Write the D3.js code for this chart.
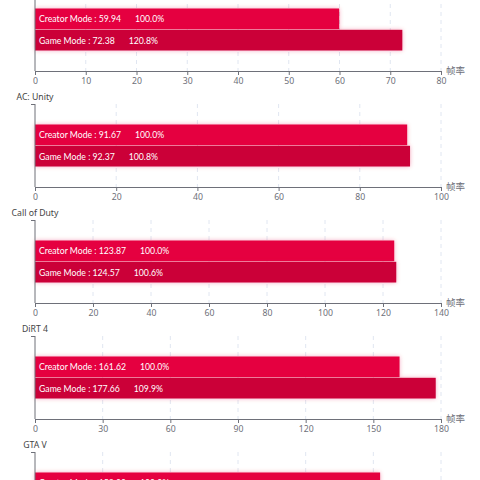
<!DOCTYPE html>
<html>
<head>
<meta charset="utf-8">
<script src="https://cdn.jsdelivr.net/npm/d3@7"></script>
<style>
  html, body { margin: 0; padding: 0; background: #fff; overflow: hidden; }
  svg { display: block; font-family: "Noto Sans", "Noto Sans CJK SC", sans-serif; }
</style>
</head>
<body>
<svg id="chart" width="480" height="480"></svg>
<script>
// games shown, one small chart each (first title is scrolled off the top)
const games = ["Far Cry 5", "AC: Unity", "Call of Duty", "DiRT 4", "GTA V"];
const modes = ["Creator Mode", "Game Mode"];
const creatorFps = [59.94, 91.67, 123.87, 161.62, 153.0];
const gameFps = [72.38, 92.37, 124.57, 177.66, 166.0];
const axisMax = [80, 100, 140, 180, 180];
const axisStep = [10, 20, 20, 30, 30];
const axisName = "帧率";

const svg = d3.select("#chart");
const colors = ["#e5033f", "#cb0639"];

//soft glow under the bars
const defs = svg.append("defs");
const glow = defs.append("filter").attr("id", "glow")
  .attr("x", "-5%").attr("y", "-30%").attr("width", "110%").attr("height", "160%");
glow.append("feDropShadow").attr("dx", 0).attr("dy", 0)
  .attr("stdDeviation", 2).attr("flood-color", "#e5033f").attr("flood-opacity", 0.35);

const left = 35, right = 441;
const panelStep = 116, firstTop = -12, gridH = 83;
const axisColor = "#6e7079";

games.forEach((name, k) => {
  const top = firstTop + k * panelStep;
  const bottom = top + gridH;
  const g = svg.append("g");

  const x = d3.scaleLinear().domain([0, axisMax[k]]).range([left, right]);
  const ticks = d3.range(0, axisMax[k] + 0.001, axisStep[k]);
  const y = d3.scaleBand().domain(modes).range([top + 20.5, top + 62.5]).paddingInner(0.03);

  //dashed grid
  g.selectAll(".grid").data(ticks.slice(1)).join("line")
    .attr("x1", d => x(d)).attr("x2", d => x(d))
    .attr("y1", top).attr("y2", bottom)
    .attr("stroke", "#e0e6f1").attr("stroke-dasharray", "4,4");

  //bars
  const vals = [creatorFps[k], gameFps[k]];
  g.selectAll(".bar").data(modes).join("rect")
    .attr("x", left)
    .attr("y", d => y(d))
    .attr("width", (d, i) => x(vals[i]) - left)
    .attr("height", y.bandwidth())
    .attr("fill", (d, i) => colors[i])
    .attr("filter", "url(#glow)");

  //labels inside bars: name/value, then the ratio a fixed gap after it
  modes.forEach((d, i) => {
    const ly = y(d) + y.bandwidth() / 2;
    const t = g.append("text")
      .attr("x", left + 4).attr("y", ly).attr("dy", "0.42em")
      .attr("fill", "#fff")
      .attr("font-family", "Lato, sans-serif")
      .attr("font-size", 8.7)
      .text(`${d} : ${vals[i].toFixed(2)}`);
    const w = t.node().getComputedTextLength();
    g.append("text")
      .attr("x", left + 4 + w + 14).attr("y", ly).attr("dy", "0.42em")
      .attr("fill", "#fff")
      .attr("font-family", "Lato, sans-serif")
      .attr("font-size", 8.7)
      .text((vals[i] / vals[0] * 100).toFixed(1) + "%");
  });

  //x axis
  const xAxis = g.append("g").attr("transform", `translate(0,${bottom})`)
    .call(d3.axisBottom(x).tickValues(ticks).tickSize(4).tickPadding(3).tickSizeOuter(0));
  xAxis.select(".domain").attr("stroke", axisColor);
  xAxis.selectAll(".tick line").attr("stroke", axisColor);
  xAxis.selectAll(".tick text").attr("fill", axisColor).attr("font-size", 8.7)
    .attr("font-family", "Noto Sans, sans-serif");
  g.append("text").attr("x", right + 5).attr("y", bottom).attr("dy", "0.35em")
    .attr("fill", axisColor).attr("font-size", 9.5).text(axisName);

  //y axis line with top tick, name on top
  g.append("line").attr("x1", left).attr("x2", left).attr("y1", top).attr("y2", bottom)
    .attr("stroke", axisColor);
  g.append("line").attr("x1", left - 4).attr("x2", left).attr("y1", top + 0.5).attr("y2", top + 0.5)
    .attr("stroke", axisColor);
  g.append("text").attr("x", left).attr("y", top - 4).attr("text-anchor", "middle")
    .attr("fill", "#444").attr("font-size", 8.7).text(name);
});
</script>
</body>
</html>
